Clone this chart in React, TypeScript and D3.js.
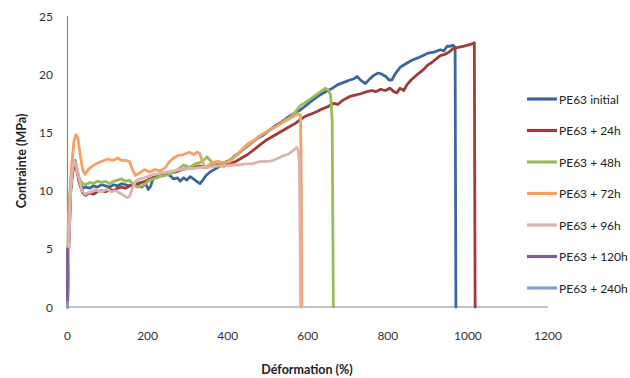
import React from "react";
import * as d3 from "d3";

type Pt = [number, number];

const seriesNames = [
  "PE63 initial",
  "PE63 + 24h",
  "PE63 + 48h",
  "PE63 + 72h",
  "PE63 + 96h",
  "PE63 + 120h",
  "PE63 + 240h",
];

const colors = ["#3B679E", "#A03B37", "#9BBB59", "#F8A064", "#DDB3B1", "#7B5C9E", "#7E9DD0"];

const xTicks = [0, 200, 400, 600, 800, 1000, 1200];
const yTicks = [0, 5, 10, 15, 20, 25];

const initial: Pt[] = [[0,0],[3,5],[8,10],[14,12.2],[19,12.6],[24,11.8],[30,10.8],[38,10.2],[45,10.3],[55,10.2],[65,10.4],[75,10.3],[85,10.5],[95,10.4],[105,10.3],[115,10.5],[125,10.4],[135,10.6],[145,10.5],[155,10.4],[165,10.6],[175,10.5],[185,10.3],[195,10.6],[202,10.1],[208,10.4],[215,11.2],[225,11.4],[235,11.3],[245,11.5],[256,11.3],[265,11.0],[275,11.1],[281,10.8],[290,11.1],[298,10.9],[306,11.2],[315,11.0],[322,10.8],[331,10.6],[338,10.9],[346,11.3],[356,11.6],[366,11.8],[376,12.0],[386,12.2],[396,12.5],[406,12.6],[418,13.0],[431,13.3],[445,13.7],[460,14.1],[475,14.5],[490,14.8],[505,15.2],[520,15.6],[535,15.9],[550,16.3],[565,16.6],[580,16.9],[595,17.3],[610,17.7],[625,18.1],[640,18.4],[650,18.6],[662,18.8],[675,19.1],[690,19.3],[705,19.5],[715,19.6],[723,19.8],[732,19.5],[744,19.2],[755,19.6],[765,19.9],[776,20.1],[785,20.0],[795,19.8],[803,19.5],[810,19.5],[818,20.0],[831,20.6],[845,20.9],[860,21.2],[875,21.4],[888,21.6],[900,21.8],[915,21.9],[931,22.1],[940,22.0],[948,22.4],[956,22.4],[963,22.5],[968,22.3],[970,0]];

const h24: Pt[] = [[0,0],[3,5],[8,10],[14,11.8],[19,12.2],[24,11.6],[30,10.6],[38,9.8],[45,9.6],[55,9.8],[65,9.7],[75,9.9],[85,10.0],[95,9.9],[105,10.1],[115,10.0],[125,10.2],[135,10.3],[145,10.2],[155,10.4],[165,10.5],[175,10.6],[185,10.7],[195,10.8],[205,11.0],[215,11.1],[225,11.2],[240,11.4],[255,11.5],[270,11.6],[285,11.8],[300,11.9],[315,12.0],[330,12.1],[345,12.0],[360,12.1],[375,12.2],[390,12.1],[405,12.3],[420,12.5],[435,12.8],[450,13.1],[465,13.5],[480,13.9],[495,14.3],[510,14.6],[525,14.9],[540,15.2],[555,15.5],[570,15.8],[581,16.1],[595,16.4],[610,16.6],[623,16.8],[635,17.0],[650,17.2],[664,17.5],[675,17.4],[685,17.7],[695,17.9],[706,18.1],[718,18.2],[730,18.3],[748,18.5],[760,18.6],[770,18.5],[782,18.7],[794,18.6],[805,18.8],[815,18.5],[823,18.4],[830,18.8],[840,18.6],[848,19.1],[858,19.5],[868,19.8],[878,20.1],[889,20.4],[900,20.8],[910,21.0],[920,21.3],[931,21.6],[942,21.7],[953,21.9],[963,22.2],[975,22.3],[988,22.4],[1000,22.5],[1010,22.6],[1016,22.7],[1018,0]];

const h48: Pt[] = [[0,4],[3,8],[8,11],[14,12.3],[18,12.6],[23,11.8],[30,11.0],[38,10.6],[45,10.5],[55,10.7],[65,10.6],[75,10.8],[85,10.7],[95,10.8],[105,10.6],[115,10.8],[125,10.9],[135,11.0],[145,10.8],[155,10.9],[165,10.5],[175,10.3],[185,10.4],[195,10.6],[205,10.9],[215,11.0],[230,11.2],[245,11.3],[260,11.5],[275,11.8],[290,12.2],[305,12.0],[318,12.3],[330,12.4],[340,12.6],[348,12.9],[356,12.6],[365,12.3],[375,12.4],[388,12.2],[400,12.5],[414,12.8],[425,13.1],[440,13.6],[455,14.0],[470,14.4],[485,14.8],[500,15.1],[515,15.4],[530,15.7],[545,16.1],[560,16.4],[572,16.9],[581,17.3],[595,17.6],[608,17.9],[620,18.2],[632,18.5],[644,18.8],[652,18.6],[657,18.2],[661,16.0],[664,0]];

const h72: Pt[] = [[0,3],[4,8],[10,12],[16,14.2],[21,14.8],[26,14.5],[32,13.0],[38,11.8],[44,11.4],[52,11.8],[62,12.1],[72,12.3],[85,12.5],[100,12.7],[115,12.6],[125,12.8],[135,12.6],[145,12.6],[155,12.5],[162,11.8],[170,11.3],[180,11.5],[192,11.8],[205,11.6],[218,11.8],[232,11.7],[245,12.0],[255,12.5],[265,12.8],[275,13.0],[290,13.1],[305,13.3],[315,13.1],[323,13.3],[330,13.2],[336,12.6],[342,12.0],[350,12.1],[360,12.4],[373,12.5],[390,12.4],[406,12.5],[420,13.0],[435,13.5],[450,14.0],[465,14.3],[480,14.7],[495,15.0],[510,15.3],[525,15.6],[540,15.9],[555,16.2],[565,16.4],[575,16.6],[582,16.5],[584,10],[585,0]];

const h96: Pt[] = [[0,0],[3,5],[8,10],[13,12.0],[18,12.5],[23,12.1],[29,11.0],[36,10.0],[44,9.7],[52,9.8],[60,9.9],[70,10.1],[80,9.9],[90,10.0],[100,10.1],[110,9.9],[120,10.0],[130,9.8],[140,9.6],[148,9.4],[155,9.5],[162,10.2],[170,10.8],[180,11.0],[192,11.1],[206,11.3],[220,11.4],[235,11.5],[250,11.6],[265,11.7],[280,11.8],[300,11.9],[315,11.9],[331,12.0],[350,12.0],[370,12.1],[390,12.1],[414,12.2],[430,12.2],[445,12.3],[460,12.3],[481,12.5],[500,12.5],[515,12.6],[527,12.8],[539,13.0],[550,13.1],[558,13.3],[566,13.5],[572,13.7],[576,13.5],[579,12.5],[581,5],[582,0]];

const h120: Pt[] = [[0,0],[0,5]];
const h240: Pt[] = [[0,0],[0,0.4]];

const allSeries: Pt[][] = [initial, h24, h48, h72, h96, h120, h240];

const W = 630;
const H = 378;
const left = 67.5;
const right = 548;
const top = 16;
const bottom = 307;

const font = "Lato, 'Open Sans', sans-serif";

export default function App() {
  const x = d3.scaleLinear().domain([0, 1200]).range([left, right]);
  const y = d3.scaleLinear().domain([0, 25]).range([bottom, top]);
  const line = d3
    .line<Pt>()
    .x((d) => x(d[0]))
    .y((d) => y(d[1]));

  return (
    <svg
      width={W}
      height={H}
      style={{ position: "absolute", left: 0, top: 0, background: "#fff" }}
    >
      <rect x={0} y={0} width={W} height={H} fill="#fff" />
      {/* axes */}
      <line x1={left} x2={left} y1={top} y2={bottom} stroke="#888" strokeWidth={1.2} />
      <line x1={left} x2={right} y1={bottom} y2={bottom} stroke="#888" strokeWidth={1.2} />
      {yTicks.map((t) => (
        <text
          key={"y" + t}
          x={53}
          y={y(t)}
          textAnchor="end"
          dominantBaseline="central"
          fontFamily={font}
          fontSize={12}
          fill="#333"
        >
          {t}
        </text>
      ))}
      {xTicks.map((t) => (
        <text
          key={"x" + t}
          x={x(t)}
          y={335}
          textAnchor="middle"
          dominantBaseline="central"
          fontFamily={font}
          fontSize={12}
          fill="#333"
        >
          {t}
        </text>
      ))}
      <text
        x={307}
        y={369}
        textAnchor="middle"
        dominantBaseline="central"
        fontFamily={font}
        fontSize={12.5}
        fontWeight="bold"
        fill="#222"
      >
        Déformation (%)
      </text>
      <text
        transform={`translate(21,${161}) rotate(-90)`}
        textAnchor="middle"
        dominantBaseline="central"
        fontFamily={font}
        fontSize={12.5}
        fontWeight="bold"
        fill="#222"
      >
        Contrainte (MPa)
      </text>
      {/* series */}
      {allSeries.map((s, i) => (
        <path
          key={"s" + i}
          d={line(s) || ""}
          fill="none"
          stroke={colors[i]}
          strokeWidth={2.8}
          strokeLinejoin="round"
          strokeLinecap="round"
        />
      ))}
      {/* legend */}
      {seriesNames.map((n, i) => {
        const ly = 99 + i * 31.5;
        return (
          <g key={"l" + i}>
            <line x1={527} x2={557} y1={ly} y2={ly} stroke={colors[i]} strokeWidth={3.2} />
            <text
              x={559}
              y={ly}
              dominantBaseline="central"
              fontFamily={font}
              fontSize={12}
              fill="#222"
            >
              {n}
            </text>
          </g>
        );
      })}
    </svg>
  );
}
